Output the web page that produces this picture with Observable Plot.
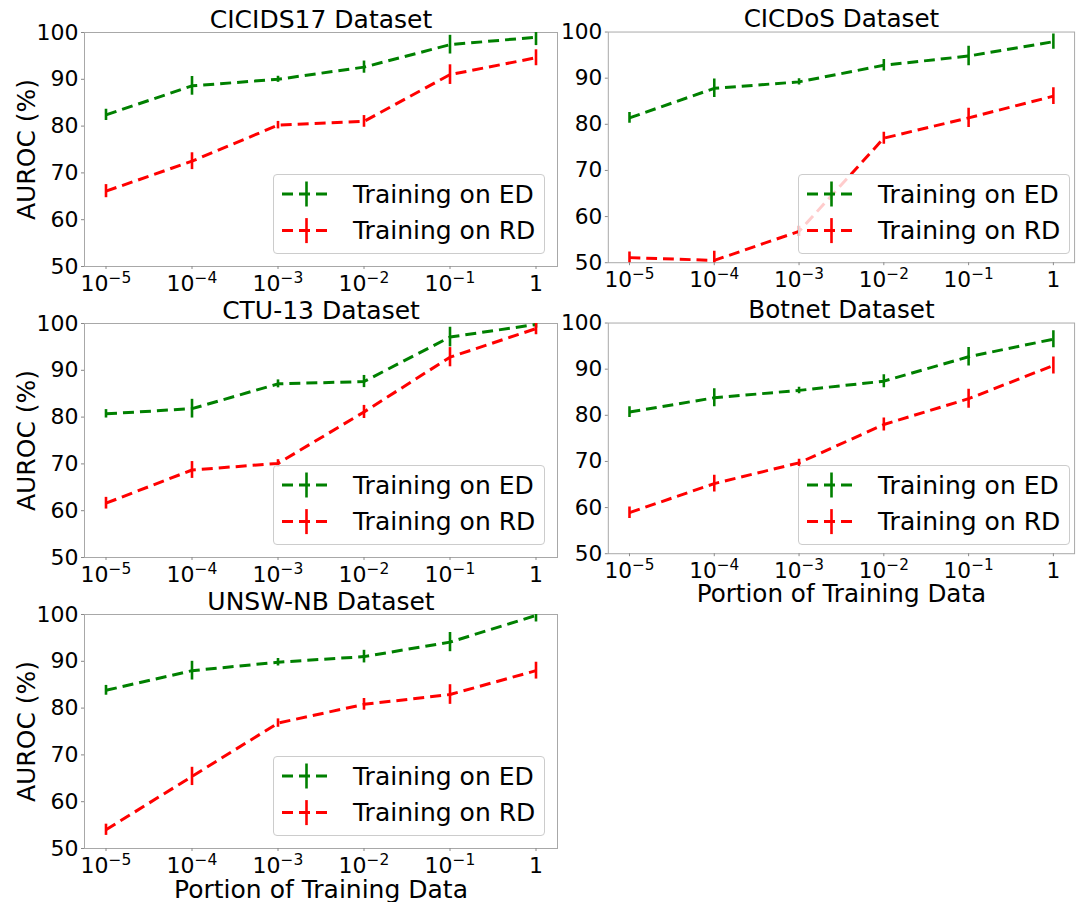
<!DOCTYPE html>
<html>
<head>
<meta charset="utf-8">
<script src="https://cdn.jsdelivr.net/npm/d3@7"></script>
<script src="https://cdn.jsdelivr.net/npm/@observablehq/plot@0.6"></script>
<style>
  body { margin: 0; background: #fff; }
  #fig { position: relative; width: 1080px; height: 902px; overflow: hidden; background: #fff;
         font-family: "DejaVu Sans", sans-serif; }
  .panel { position: absolute; }
  .legend { position: absolute; box-sizing: border-box; border: 1px solid #cccccc; border-radius: 4px;
            background: rgba(255,255,255,0.8); }
</style>
</head>
<body>
<div id="fig"></div>
<script>
// Shared x positions (fraction of the training set) and axis tick labels
const portions = [1e-5, 1e-4, 1e-3, 1e-2, 1e-1, 1];
const portionLabels = ["10⁻⁵", "10⁻⁴", "10⁻³", "10⁻²", "10⁻¹", "1"];
const aurocTicks = [50, 60, 70, 80, 90, 100];
const seriesNames = ["Training on ED", "Training on RD"];
const seriesColors = ["green", "red"];

// AUROC (%) per dataset, mean and error-bar half width
const cicids17ED    = [82.4, 88.6, 90.0, 92.6, 97.4, 99.0];
const cicids17EDErr = [1.2, 2.0, 0.65, 1.3, 2.0, 1.8];
const cicids17RD    = [66.1, 72.5, 80.2, 81.0, 91.0, 94.6];
const cicids17RDErr = [1.4, 1.8, 0.8, 1.25, 2.1, 1.7];

const cicdosED    = [81.4, 87.8, 89.2, 92.8, 94.8, 97.9];
const cicdosEDErr = [1.15, 2.0, 0.7, 1.25, 2.1, 1.65];
const cicdosRD    = [51.1, 50.5, 56.8, 77.0, 81.4, 86.1];
const cicdosRDErr = [1.2, 2.0, 1.1, 1.3, 2.1, 1.8];

const ctu13ED    = [80.7, 81.8, 87.1, 87.6, 97.1, 99.8];
const ctu13EDErr = [0.9, 2.0, 0.85, 1.3, 2.1, 0.8];
const ctu13RD    = [61.6, 68.7, 70.1, 81.1, 92.8, 98.9];
const ctu13RDErr = [1.25, 1.8, 0.8, 1.4, 2.05, 1.3];

const botnetED    = [80.7, 83.8, 85.4, 87.4, 92.7, 96.5];
const botnetEDErr = [1.15, 1.95, 0.7, 1.4, 2.0, 1.85];
const botnetRD    = [58.9, 65.2, 69.7, 78.0, 83.6, 90.8];
const botnetRDErr = [1.25, 1.8, 0.8, 1.4, 2.05, 1.85];

const unswED    = [83.8, 88.0, 89.8, 91.0, 94.1, 99.8];
const unswEDErr = [1.05, 2.0, 0.8, 1.35, 2.05, 1.4];
const unswRD    = [54.0, 65.4, 76.8, 80.8, 82.9, 88.0];
const unswRDErr = [1.2, 1.95, 0.9, 1.25, 2.1, 1.8];

// Panel grid: plot-area corners in page pixels
const frameW = 473, frameH = 234;
const colLeft = [84, 609];
const rowTop = [32, 323, 614];

const panels = [
  {title: "CICIDS17 Dataset", col: 0, row: 0, ed: cicids17ED, edErr: cicids17EDErr, rd: cicids17RD, rdErr: cicids17RDErr, yLabel: true,  xLabel: false},
  {title: "CICDoS Dataset",   col: 1, row: 0, ed: cicdosED,   edErr: cicdosEDErr,   rd: cicdosRD,   rdErr: cicdosRDErr,   yLabel: false, xLabel: false},
  {title: "CTU-13 Dataset",   col: 0, row: 1, ed: ctu13ED,    edErr: ctu13EDErr,    rd: ctu13RD,    rdErr: ctu13RDErr,    yLabel: true,  xLabel: false},
  {title: "Botnet Dataset",   col: 1, row: 1, ed: botnetED,   edErr: botnetEDErr,   rd: botnetRD,   rdErr: botnetRDErr,   yLabel: false, xLabel: true},
  {title: "UNSW-NB Dataset",  col: 0, row: 2, ed: unswED,     edErr: unswEDErr,     rd: unswRD,     rdErr: unswRDErr,     yLabel: true,  xLabel: true}
];

const fig = document.getElementById("fig");
const mLeft = 84, mTop = 32, mRight = 6, mBottom = 56;
const bigFont = 25;
const supDigits = {"⁻": "−", "⁰": "0", "¹": "1", "²": "2", "³": "3", "⁴": "4", "⁵": "5", "⁶": "6", "⁷": "7", "⁸": "8", "⁹": "9"};

function toRows(vals, errs, series) {
  return portions.map((p, i) => ({p, v: vals[i], lo: vals[i] - errs[i], hi: vals[i] + errs[i], s: series}));
}

function labelFor(d) {
  return portionLabels[Math.round(Math.log10(d)) + 5];
}

// Typeset "10⁻ⁿ" tick labels as a base plus a raised, smaller exponent
function setExponents(chart) {
  d3.select(chart).selectAll('g[aria-label="x-axis tick label"] text').each(function () {
    const m = this.textContent.match(/^(\d+)([⁻⁰¹²³⁴⁵⁶⁷⁸⁹]+)$/);
    if (!m) return;
    const sel = d3.select(this).text("");
    sel.append("tspan").text(m[1]);
    sel.append("tspan").attr("dy", "-0.55em").attr("font-size", "15.5px")
      .text([...m[2]].map(c => supDigits[c]).join(""));
  });
}

for (const pn of panels) {
  const rows = [
    ...toRows(pn.ed, pn.edErr, seriesNames[0]),
    ...toRows(pn.rd, pn.rdErr, seriesNames[1])
  ];
  const marks = [
    Plot.frame({stroke: "#a8a8a8", strokeWidth: 1}),
    Plot.axisY({ticks: aurocTicks, tickSize: 3, tickPadding: 3, stroke: "#888", fill: "black", fontSize: 22, label: null}),
    Plot.axisX({ticks: portions, tickFormat: labelFor, tickSize: 3, tickPadding: 6, stroke: "#888", fill: "black", fontSize: 22, label: null}),
    Plot.line(rows, {x: "p", y: "v", z: "s", stroke: "s", strokeWidth: 3, strokeDasharray: "11,6", strokeLinecap: "butt", clip: true}),
    Plot.ruleX(rows, {x: "p", y1: "lo", y2: "hi", stroke: "s", strokeWidth: 2.6, clip: true}),
    Plot.text([pn.title], {frameAnchor: "top", dy: -5, lineAnchor: "bottom", fontSize: bigFont, fill: "black"})
  ];
  if (pn.yLabel) {
    marks.push(Plot.text(["AUROC (%)"], {frameAnchor: "left", rotate: -90, dx: -50, lineAnchor: "bottom", textAnchor: "middle", fontSize: bigFont, fill: "black"}));
  }
  if (pn.xLabel) {
    marks.push(Plot.text(["Portion of Training Data"], {frameAnchor: "bottom", dy: 49, lineAnchor: "bottom", fontSize: bigFont, fill: "black"}));
  }

  const chart = Plot.plot({
    width: mLeft + frameW + mRight,
    height: mTop + frameH + mBottom,
    marginLeft: mLeft, marginRight: mRight, marginTop: mTop, marginBottom: mBottom,
    style: {fontFamily: "DejaVu Sans", fontSize: "22px", color: "black", background: "transparent", overflow: "visible"},
    x: {type: "log", domain: [Math.pow(10, -5.25), Math.pow(10, 0.25)], axis: null},
    y: {domain: [50, 100], axis: null},
    color: {domain: seriesNames, range: seriesColors},
    marks
  });
  setExponents(chart);

  const wrap = document.createElement("div");
  wrap.className = "panel";
  wrap.style.left = (colLeft[pn.col] - mLeft) + "px";
  wrap.style.top = (rowTop[pn.row] - mTop) + "px";
  wrap.appendChild(chart);
  fig.appendChild(wrap);

  // Legend box in the lower-right corner of the plot area
  const lgW = 272, lgH = 80, inset = 12;
  const lg = document.createElement("div");
  lg.className = "legend";
  lg.style.width = lgW + "px";
  lg.style.height = lgH + "px";
  lg.style.left = (colLeft[pn.col] + frameW - inset - lgW) + "px";
  lg.style.top = (rowTop[pn.row] + frameH - inset - lgH) + "px";
  const svg = d3.create("svg").attr("width", lgW).attr("height", lgH)
    .style("position", "absolute").style("left", "-1px").style("top", "-1px");
  seriesNames.forEach((name, i) => {
    const cy = 20 + i * 36.6;
    const g = svg.append("g");
    g.append("line").attr("x1", 9).attr("x2", 58).attr("y1", cy).attr("y2", cy)
      .attr("stroke", seriesColors[i]).attr("stroke-width", 3).attr("stroke-dasharray", "11,6");
    g.append("line").attr("x1", 33.5).attr("x2", 33.5).attr("y1", cy - 12.5).attr("y2", cy + 12.5)
      .attr("stroke", seriesColors[i]).attr("stroke-width", 2.6);
    g.append("text").attr("x", 80).attr("y", cy).attr("dy", "0.35em")
      .attr("font-family", "DejaVu Sans").attr("font-size", bigFont).attr("fill", "black").text(name);
  });
  lg.appendChild(svg.node());
  fig.appendChild(lg);
}
</script>
</body>
</html>
